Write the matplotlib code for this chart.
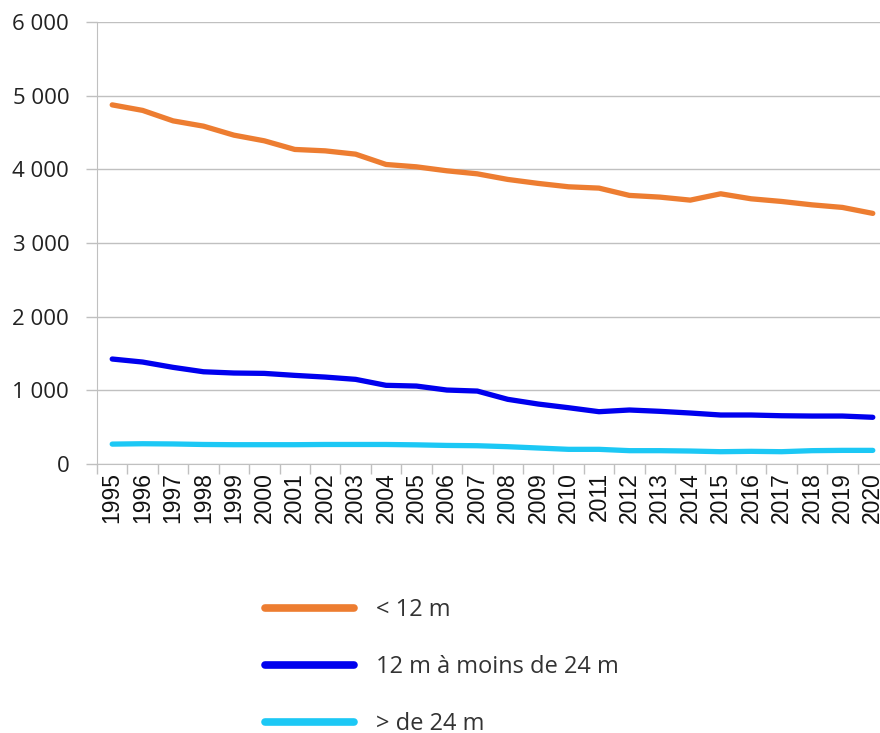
import numpy as np
import matplotlib.pyplot as plt

plt.rcParams['font.family'] = ['Open Sans', 'DejaVu Sans']

years = list(range(1995, 2021))
small = [4875, 4800, 4658, 4586, 4464, 4387, 4270, 4251, 4206, 4066, 4034, 3980, 3939,
         3863, 3809, 3763, 3745, 3646, 3623, 3582, 3668, 3600, 3564, 3518, 3483, 3402]
medium = [1425, 1384, 1312, 1252, 1235, 1230, 1203, 1180, 1149, 1068, 1058, 1004, 990,
          878, 814, 764, 710, 733, 715, 692, 665, 665, 655, 651, 651, 634]
large = [270, 275, 272, 265, 262, 262, 262, 265, 265, 265, 260, 252, 248,
         235, 217, 199, 199, 181, 181, 176, 167, 172, 167, 181, 185, 185]
labels = ['< 12 m', '12 m à moins de 24 m', '> de 24 m']
colors = ['#ED7D31', '#0000EE', '#1CC8F5']

fig = plt.figure(figsize=(8.8, 7.33), dpi=100)
ax = fig.add_axes([97/880, 269/733, 791/880, 442/733])

x = np.arange(len(years))
for vals, lab, c in zip([small, medium, large], labels, colors):
    ax.plot(x, vals, color=c, lw=3.8, label=lab, solid_capstyle='round')

ax.set_xlim(-0.5, len(years) - 0.5)
ax.set_ylim(0, 6000)
ax.set_yticks(range(0, 6001, 1000))
ax.set_yticklabels(['0', '1 000', '2 000', '3 000', '4 000', '5 000', '6 000'])
ax.grid(axis='y', color='#c0c0c0', lw=1)
ax.set_axisbelow(True)

ax.set_xticks(x)
ax.set_xticklabels([str(y) for y in years], rotation=90,
                   family=['Liberation Sans', 'DejaVu Sans'])
ax.set_xticks(np.arange(-0.5, len(years), 1), minor=True)
ax.tick_params(axis='x', which='major', length=0, pad=6, labelsize=16.5, colors='#111111')
ax.tick_params(axis='x', which='minor', length=7, color='#c0c0c0', width=1)
ax.tick_params(axis='y', length=8, color='#c0c0c0', width=1, pad=12, labelsize=16,
               colors='#222222')

for s in ['top', 'right']:
    ax.spines[s].set_visible(False)
ax.spines['left'].set_color('#c0c0c0')
ax.spines['bottom'].set_color('#c0c0c0')

leg = fig.legend(loc='upper left', bbox_to_anchor=(0.29, 0.197), frameon=False,
                 fontsize=17, handlelength=3.8, handletextpad=0.93, labelspacing=1.4,
                 borderaxespad=0)
for t in leg.get_texts():
    t.set_color('#333333')
for h in leg.get_lines():
    h.set_linewidth(5.5)

fig.savefig('out.png', dpi=100)
